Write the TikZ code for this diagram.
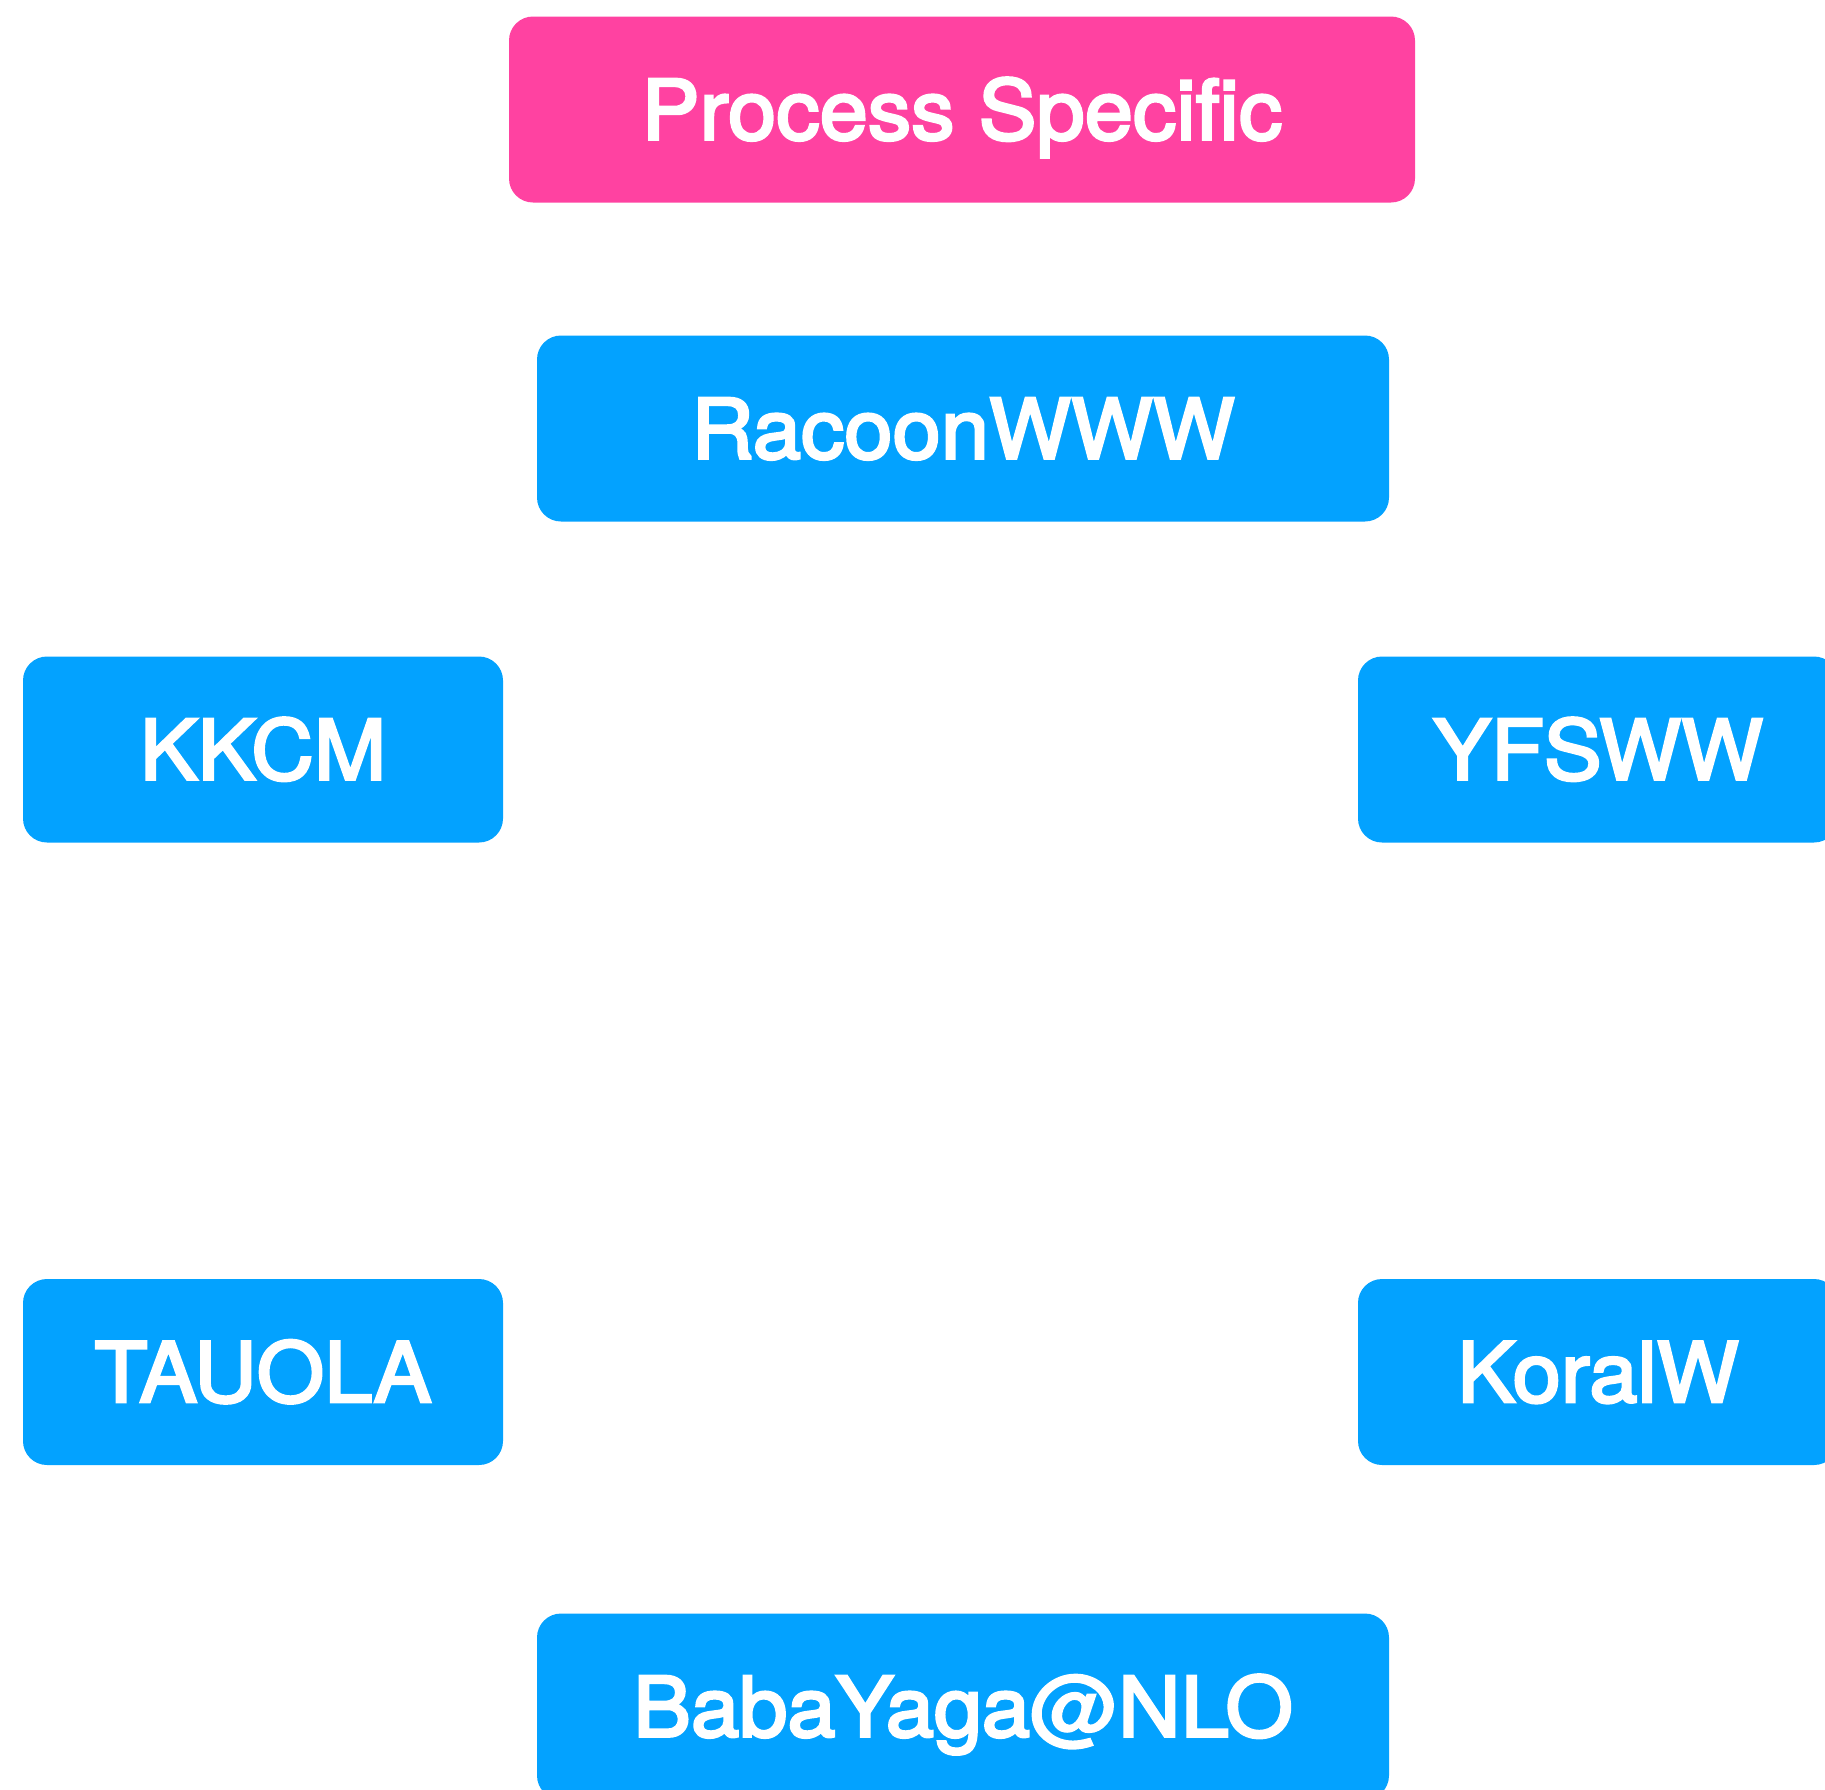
\documentclass[tikz,border=0pt]{standalone}
\usepackage{fontspec}
\newfontfamily\boxfont[FakeBold=3.3,FakeStretch=1.045]{TeX Gyre Heros}
\usepackage{tikz}
\usetikzlibrary{positioning}
\definecolor{genblue}{RGB}{3,162,255}
\definecolor{procpink}{RGB}{255,66,161}
\begin{document}
\begin{tikzpicture}[x=1pt,y=-1pt,
    every node/.style={shape=rectangle,rounded corners=24pt,inner sep=0pt,
        minimum height=186pt,text height=60pt,text depth=0pt,
        text=white,font=\boxfont\fontsize{83}{90}\selectfont},
    gen/.style={fill=genblue},
    wide/.style={minimum width=852pt},
    narrow/.style={minimum width=480pt}]
    \clip (0,0) rectangle (1825,1789);
    \useasboundingbox (0,0) rectangle (1825,1789);
	% create boxes
    \node (proc) [fill=procpink,minimum width=906pt] at (962,109.5) {Process Specific};
    \node (racoon) [gen,wide] at (963,428.5) {RacoonWWW};
    \node (kkcm) [gen,narrow] at (263,749.5) {KKCM};
    \node (yfsww) [gen,narrow] at (1598,749.5) {YFSWW};
    \node (tauola) [gen,narrow] at (263,1372) {TAUOLA};
    \node (koralw) [gen,narrow] at (1598,1372) {KoralW};
    \node (baba) [gen,wide] at (963,1706.5) {BabaYaga@NLO};
\end{tikzpicture}
\end{document}
